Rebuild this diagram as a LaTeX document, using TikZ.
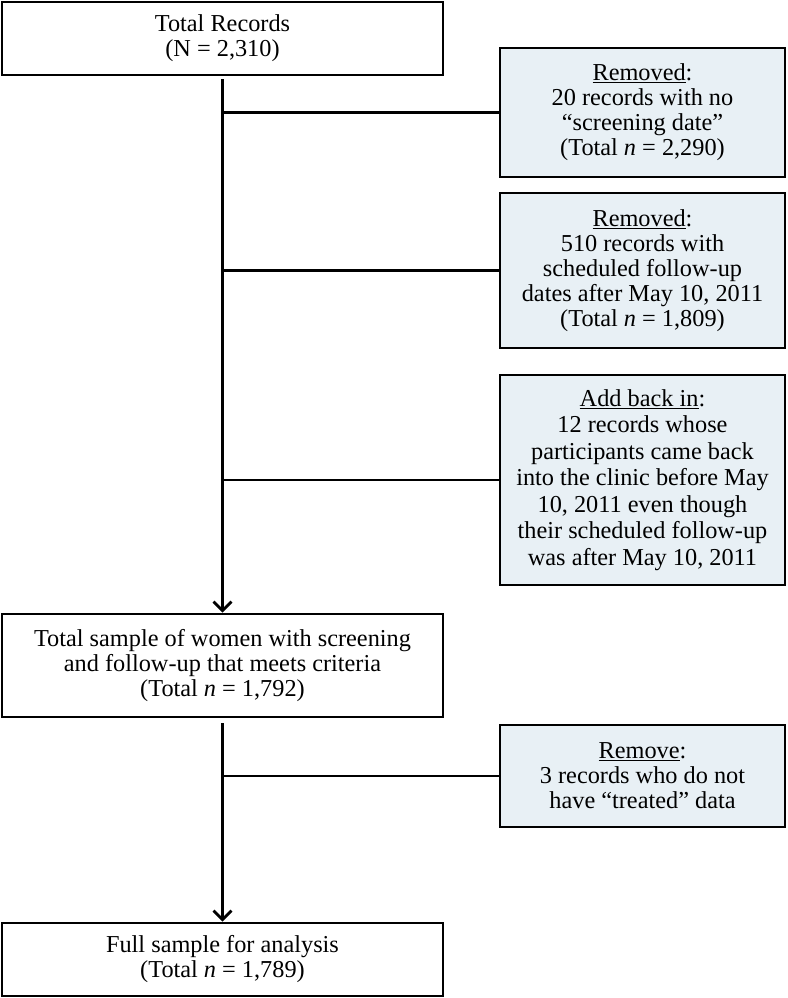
\documentclass[tikz,border=0pt]{standalone}
\usepackage{fontspec}
\setmainfont{Liberation Serif}
\usepackage{tikz}
\usetikzlibrary{positioning}
\usetikzlibrary{arrows.meta}
\definecolor{lightblue}{RGB}{232,240,245}

\begin{document}
\begin{tikzpicture}[
            x = 1pt, y = -1pt, % pixel grid of the figure
            > = {Straight Barb[length=9pt,width=18pt]}, % open arrow head
            line width = 2.8pt % line style
        ]

        \tikzstyle{every node}=[
            font = \fontsize{24.3}{25}\selectfont,
            align = center,
            inner sep = 0pt
        ]
        \tikzstyle{mainbox}=[draw, fill = white, minimum width = 441pt]
        \tikzstyle{sidebox}=[draw, fill = lightblue, minimum width = 285pt]

        \useasboundingbox (0,0) rectangle (787,998);

	% main column
        \node[mainbox, minimum height = 73pt] (total) at (222.5,38.5)
            {Total Records\\(N = 2,310)};
        \node[mainbox, minimum height = 103pt] (sample) at (222.5,665.5)
            {Total sample of women with screening\\and follow-up that meets criteria\\(Total \textit{n} = 1,792)};
        \node[mainbox, minimum height = 73pt] (full) at (222.5,959.5)
            {Full sample for analysis\\(Total \textit{n} = 1,789)};

        % side boxes
        \node[sidebox, minimum height = 129pt] (rem1) at (642.5,112.5)
            {\underline{Removed}:\\20 records with no\\“screening date”\\(Total \textit{n} = 2,290)};
        \node[sidebox, minimum height = 155pt] (rem2) at (642.5,270.5)
            {\underline{Removed}:\\510 records with\\scheduled follow-up\\dates after May 10, 2011\\(Total \textit{n} = 1,809)};
        \node[sidebox, minimum height = 210pt, font = \fontsize{24.3}{26.5}\selectfont] (addback) at (642.5,480)
            {\underline{Add back in}:\\12 records whose\\participants came back\\into the clinic before May\\10, 2011 even though\\their scheduled follow-up\\was after May 10, 2011};
        \node[sidebox, minimum height = 102pt] (remove) at (642.5,776)
            {\underline{Remove}:\\3 records who do not\\have “treated” data};

        % flow
        \draw[->, shorten < = 3pt] (total) -- (sample);
        \draw[->, shorten < = 5pt] (sample) -- (full);

        \draw (rem1.west) -- (rem1.west -| total.south);
        \draw (rem2.west) -- (rem2.west -| total.south);
        \draw (addback.west) -- (addback.west -| total.south);
        \draw (remove.west) -- (remove.west -| sample.south);

  \end{tikzpicture}
\end{document}
